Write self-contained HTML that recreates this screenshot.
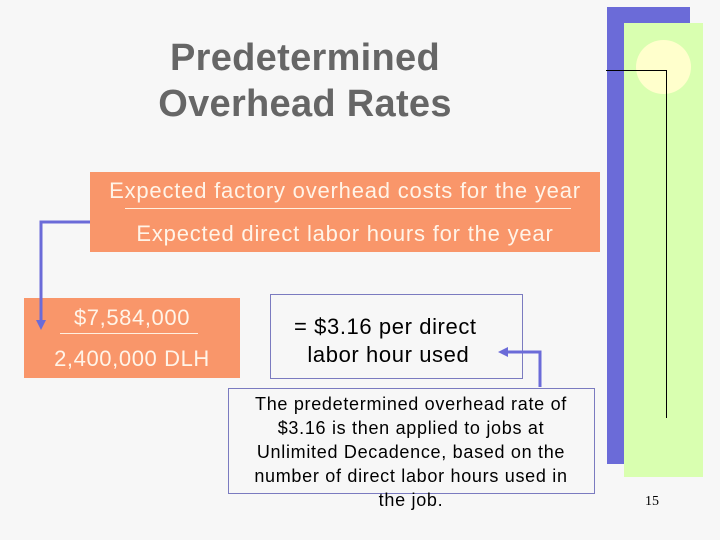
<!DOCTYPE html>
<html><head><meta charset="utf-8"><style>
body{margin:0;width:720px;height:540px;background:#f7f7f7;position:relative;overflow:hidden;font-family:"Liberation Sans",sans-serif}
div{position:absolute}
.t{text-align:center;white-space:nowrap}
</style></head><body>
<div style="left:607px;top:7px;width:83px;height:457px;background:#6b6bd8"></div>
<div style="left:624px;top:23px;width:79px;height:454px;background:#d9ffb0"></div>
<div style="left:636px;top:40px;width:55px;height:54px;border-radius:50%;background:#ffffcc"></div>
<div style="left:606px;top:70px;width:60px;height:1px;background:#000"></div>
<div style="left:666px;top:70px;width:1px;height:348px;background:#000"></div>
<div class="t" style="left:630px;top:494px;width:44px;font-family:'Liberation Serif',serif;font-size:14px;color:#000">15</div>
<div class="t" style="left:100px;top:35px;width:410px;font-size:38px;font-weight:bold;color:#666;line-height:46px;letter-spacing:0.3px">Predetermined<br>Overhead Rates</div>
<div style="left:90px;top:172px;width:510px;height:80px;background:#f9966a"></div>
<div class="t" style="left:90px;top:178px;width:510px;font-size:22px;color:#fff4e8;letter-spacing:0.8px">Expected factory overhead costs for the year</div>
<div style="left:125px;top:208px;width:446px;height:1px;background:#fff0e0"></div>
<div class="t" style="left:90px;top:221px;width:510px;font-size:22px;color:#fff4e8;letter-spacing:0.8px">Expected direct labor hours for the year</div>
<div style="left:24px;top:298px;width:216px;height:80px;background:#f9966a"></div>
<div class="t" style="left:24px;top:305px;width:216px;font-size:22px;color:#fff4e8;letter-spacing:0.6px">$7,584,000</div>
<div style="left:60px;top:333px;width:138px;height:1px;background:#fff0e0"></div>
<div class="t" style="left:24px;top:346px;width:216px;font-size:22px;color:#fff4e8;letter-spacing:0.6px">2,400,000 DLH</div>
<div style="left:270px;top:294px;width:251px;height:83px;border:1px solid #7b7bc0"></div>
<div style="left:294px;top:313px;font-size:22px;color:#000;line-height:28px;white-space:nowrap;letter-spacing:0.6px">= $3.16 per direct<br>&nbsp;&nbsp;labor hour used</div>
<div style="left:228px;top:388px;width:365px;height:104px;border:1px solid #7b7bc0;background:#f7f7f7"></div>
<div class="t" style="left:228px;top:392px;width:366px;font-size:18px;line-height:24px;color:#000;letter-spacing:0.7px">The predetermined overhead rate of<br>$3.16 is then applied to jobs at<br>Unlimited Decadence, based on the<br>number of direct labor hours used in<br>the job.</div>
<svg width="720" height="540" style="position:absolute;left:0;top:0">
<path d="M90 222 H41 V322" fill="none" stroke="#6b6bd8" stroke-width="3"/>
<polygon points="36,320 46,320 41,330" fill="#6b6bd8"/>
<path d="M540 387 V352 H506" fill="none" stroke="#6b6bd8" stroke-width="3"/>
<polygon points="498,352 508,347 508,357" fill="#6b6bd8"/>
</svg>
</body></html>
